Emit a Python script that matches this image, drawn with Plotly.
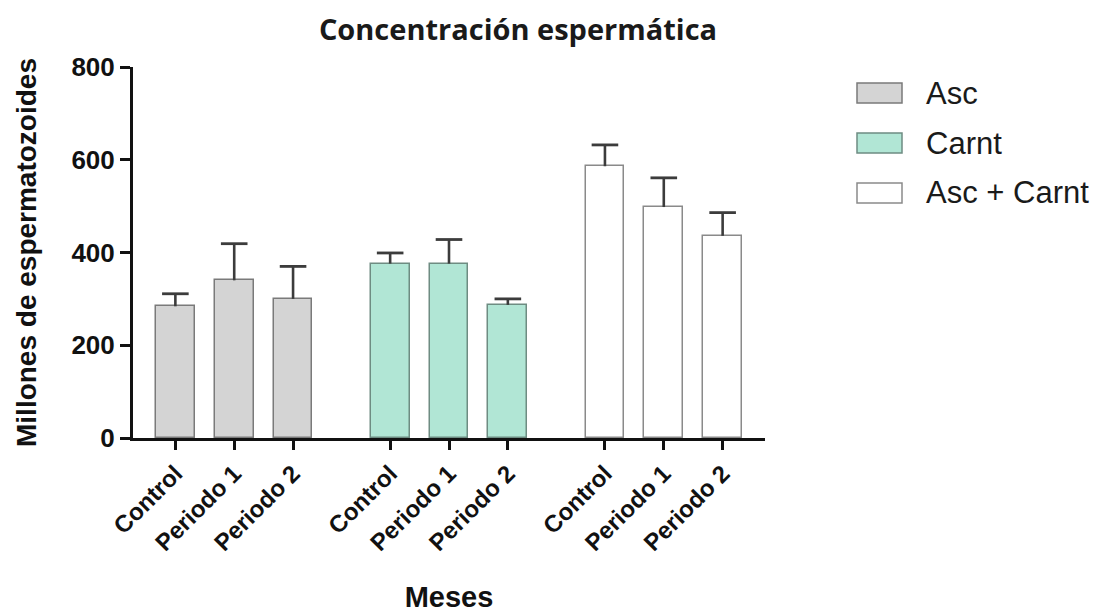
import plotly.graph_objects as go

# Sperm concentration (millions) by treatment group and period
groups = ["Asc", "Carnt", "Asc + Carnt"]
periods = ["Control", "Periodo 1", "Periodo 2"]
means = {
    "Asc": [284, 340, 300],
    "Carnt": [376, 376, 287],
    "Asc + Carnt": [586, 498, 436],
}
errors = {
    "Asc": [27, 79, 70],
    "Carnt": [23, 52, 13],
    "Asc + Carnt": [46, 63, 50],
}
y_ticks = [0, 200, 400, 600, 800]

fills = {"Asc": "#d4d4d4", "Carnt": "#b1e6d5", "Asc + Carnt": "#ffffff"}
outlines = {"Asc": "#7a7a7a", "Carnt": "#6e8c82", "Asc + Carnt": "#8a8a8a"}
ERR_COLOR = "#3c3c3c"
BOLD = "Liberation Sans, Arial"

GROUP_STEP = len(periods) + 0.65  # extra space between treatment groups
W, H = 1114, 613
L, R, T, B = 133, 349, 67, 175

fig = go.Figure()
tickvals, ticktext = [], []
for gi, g in enumerate(groups):
    xs = [gi * GROUP_STEP + i for i in range(len(periods))]
    tickvals += xs
    ticktext += periods
    tops = [m + e for m, e in zip(means[g], errors[g])]
    fig.add_trace(go.Bar(
        x=xs, y=means[g], name=g, width=0.66,
        marker=dict(color=fills[g], line=dict(color=outlines[g], width=1.5)),
        error_y=dict(type="data", array=errors[g], arrayminus=[0] * len(periods),
                     symmetric=False, color=ERR_COLOR, thickness=2.6, width=0),
        showlegend=False,
    ))
    # upper caps of the error bars (SEM, one-sided)
    fig.add_trace(go.Scatter(
        x=xs, y=tops, mode="markers", showlegend=False, hoverinfo="skip",
        marker=dict(symbol="line-ew-open", size=19, color=ERR_COLOR,
                    line=dict(color=ERR_COLOR, width=2.8)),
    ))

# Legend drawn as boxes beside the plot
pw = W - L - R
ph = H - T - B
for i, g in enumerate(groups):
    yc = 93 + 50 * i
    fig.add_shape(type="rect", xref="paper", yref="paper",
                  x0=(857 - L) / pw, x1=(902 - L) / pw,
                  y0=1 - (yc - 10 - T) / ph, y1=1 - (yc + 10 - T) / ph,
                  fillcolor=fills[g], line=dict(color=outlines[g], width=1.5))
    fig.add_annotation(xref="paper", yref="paper", x=(924 - L) / pw, y=1 - (yc - T) / ph,
                       text=g, showarrow=False, xanchor="left", yanchor="middle",
                       font=dict(family="Liberation Sans, Arial", size=31, color="#1a1a1a"))

last = tickvals[-1]
fig.update_layout(
    width=W, height=H,
    margin=dict(l=L, r=R, t=T, b=B, autoexpand=False),
    plot_bgcolor="white", paper_bgcolor="white",
    bargap=0,
    title=dict(text="Concentración espermática", x=518 / W, xanchor="center",
               y=1 - 30 / H, yanchor="middle",
               font=dict(family="Open Sans", size=29, color="#1a1a1a", weight=700)),
    xaxis=dict(
        range=[-0.72, last + 0.72], automargin=False,
        tickvals=tickvals, ticktext=ticktext, tickangle=-45,
        showline=True, linecolor="#111111", linewidth=3,
        ticks="outside", ticklen=9, tickwidth=3, tickcolor="#111111",
        showgrid=False, zeroline=False,
        tickfont=dict(family=BOLD, size=24, color="#111111", weight="bold"),
        title=dict(text="Meses", standoff=34,
                   font=dict(family=BOLD, size=29, color="#111111", weight="bold")),
    ),
    yaxis=dict(
        range=[0, 800], tickvals=y_ticks, automargin=False,
        showline=True, linecolor="#111111", linewidth=3,
        ticks="outside", ticklen=10, tickwidth=3, tickcolor="#111111",
        showgrid=False, zeroline=False,
        tickfont=dict(family=BOLD, size=26, color="#111111", weight="bold"),
        title=dict(text="Millones de espermatozoides", standoff=27,
                   font=dict(family=BOLD, size=28, color="#111111", weight="bold")),
    ),
)

fig.write_html("out.html")
